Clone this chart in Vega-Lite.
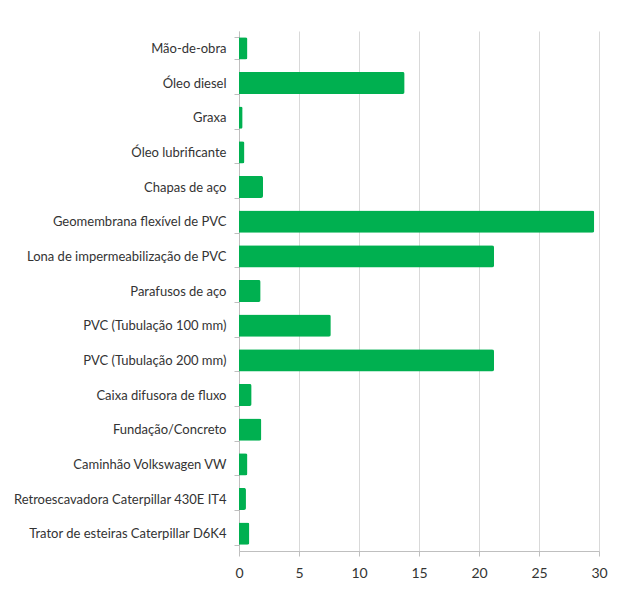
{
  "$schema": "https://vega.github.io/schema/vega-lite/v6.json",
  "autosize": {"type": "none"},
  "padding": {"left": 239, "top": 31, "right": 18, "bottom": 42},
  "width": 360,
  "height": 520,
  "background": "white",
  "data": {
    "values": [
      {"item": "Mão-de-obra", "valor": 0.7},
      {"item": "Óleo diesel", "valor": 13.8},
      {"item": "Graxa", "valor": 0.3},
      {"item": "Óleo lubrificante", "valor": 0.45},
      {"item": "Chapas de aço", "valor": 2.0},
      {"item": "Geomembrana flexível de PVC", "valor": 29.6},
      {"item": "Lona de impermeabilização de PVC", "valor": 21.25},
      {"item": "Parafusos de aço", "valor": 1.8},
      {"item": "PVC (Tubulação 100 mm)", "valor": 7.65},
      {"item": "PVC (Tubulação 200 mm)", "valor": 21.25},
      {"item": "Caixa difusora de fluxo", "valor": 1.05},
      {"item": "Fundação/Concreto", "valor": 1.86},
      {"item": "Caminhão Volkswagen VW", "valor": 0.7},
      {"item": "Retroescavadora Caterpillar 430E IT4", "valor": 0.58},
      {"item": "Trator de esteiras Caterpillar D6K4", "valor": 0.86}
    ]
  },
  "mark": {"type": "bar", "color": "#00b050", "cornerRadiusEnd": 2},
  "encoding": {
    "y": {
      "field": "item",
      "type": "nominal",
      "sort": null,
      "title": null,
      "scale": {"paddingInner": 0.36, "paddingOuter": 0.18},
      "axis": {
        "tickBand": "extent",
        "tickSize": 5,
        "tickColor": "#bfbfbf",
        "domainColor": "#bfbfbf",
        "labelPadding": 8,
        "labelFont": "Lato",
        "labelFontSize": 13,
        "labelColor": "#333333",
        "labelLimit": 300,
        "grid": false
      }
    },
    "x": {
      "field": "valor",
      "type": "quantitative",
      "title": null,
      "scale": {"domain": [0, 30], "nice": false},
      "axis": {
        "values": [0, 5, 10, 15, 20, 25, 30],
        "tickSize": 5,
        "tickColor": "#bfbfbf",
        "domainColor": "#bfbfbf",
        "gridColor": "#d9d9d9",
        "labelPadding": 10,
        "labelFont": "Lato",
        "labelFontSize": 14,
        "labelColor": "#333333",
        "labelFlush": false
      }
    }
  },
  "config": {"view": {"stroke": null}}
}
